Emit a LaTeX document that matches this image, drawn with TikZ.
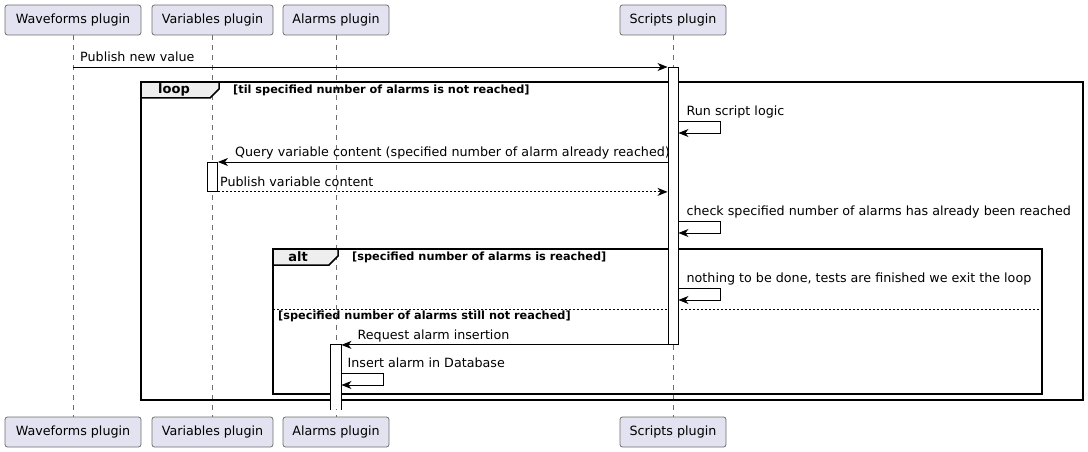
\documentclass[tikz,border=0pt]{standalone}
\usepackage{fontspec}
\setmainfont{DejaVu Sans}
\usetikzlibrary{calc,arrows.meta}

\definecolor{partfill}{HTML}{E2E2F0}
\definecolor{partline}{HTML}{6E6E6E}
\definecolor{tabfill}{HTML}{EEEEEE}

\begin{document}
\begin{tikzpicture}[
    x=1pt, y=-1pt,
    font=\fontsize{12.7}{15}\selectfont,
    part/.style={draw=partline, fill=partfill, line width=0.8pt, rounded corners=2.5pt, minimum height=30pt, inner sep=0pt},
    life/.style={draw=partline, line width=0.6pt, dash pattern=on 5pt off 5pt},
    act/.style={draw, fill=white, line width=0.9pt, minimum width=10pt, inner sep=0pt, anchor=north},
    msg/.style={line width=0.9pt, -{Stealth[length=10pt,width=8pt,inset=3pt]}},
    reply/.style={msg, dash pattern=on 2pt off 2pt},
    frame/.style={draw, line width=1.5pt},
    tab/.style={fill=tabfill, draw, line width=1.5pt},
    tablbl/.style={font=\fontsize{13}{15}\selectfont\bfseries, inner sep=0pt},
    cond/.style={font=\fontsize{11.3}{13}\selectfont\bfseries, anchor=west, inner sep=0pt},
    txt/.style={anchor=base west, inner sep=0pt}
]
    \useasboundingbox (0,0) rectangle (1088,452);

    % Participants, top and bottom, with lifelines
    \foreach \n/\x/\w/\t in {wave/73/136/Waveforms plugin, vars/212.5/121/Variables plugin,
                             alarm/336/106/Alarms plugin, script/673/106/Scripts plugin} {
        \node[part, minimum width=\w] (\n) at (\x,20) {\t};
        \node[part, minimum width=\w] (\n-b) at (\x,432) {\t};
        \draw[life] (\n) -- (\n-b);
    }

    % loop frame
    \coordinate (loopNW) at (141,82);
    \coordinate (loopSE) at (1083,400);
    \draw[tab] (loopNW) -- ++(78,0) -- ++(0,7) -- ++(-9,9) -- ++(-69,0) -- cycle;
    \draw[frame] (loopNW) rectangle (loopSE);
    \node[tablbl] (loopLbl) at ($(loopNW)+(33,8)$) {loop};
    \node[cond] (loopCond) at ($(loopNW)+(92,8)$) {[til specified number of alarms is not reached]};

    % alt frame
    \coordinate (altNW) at (273,249);
    \coordinate (altSE) at (1042,394);
    \draw[tab] (altNW) -- ++(65,0) -- ++(0,7) -- ++(-9,9) -- ++(-56,0) -- cycle;
    \draw[frame] (altNW) rectangle (altSE);
    \node[tablbl] (altLbl) at ($(altNW)+(25,8)$) {alt};
    \node[cond] (altCond) at ($(altNW)+(79,8)$) {[specified number of alarms is reached]};
    \coordinate (elseW) at (altNW |- 0,309);
    \coordinate (elseE) at (altSE |- 0,309);
    \draw[line width=0.9pt, dash pattern=on 2pt off 2pt] (elseW) -- (elseE);
    \node[cond] (elseCond) at ($(elseW)+(5,7)$) {[specified number of alarms still not reached]};

    % Activations
    \node[act, minimum height=277pt] (actS) at (script |- 0,67) {};
    \node[act, minimum height=29pt] (actV) at (vars |- 0,162) {};
    \node[act, draw=none, minimum height=64pt] (actA) at (alarm |- actS.south) {};
    \draw[line width=0.9pt] (actA.south west) -- (actA.north west) -- (actA.north east) -- (actA.south east);

    % Publish new value
    \draw[msg] (wave |- actS.north) -- (actS.north west);
    \node[txt] (t1) at ($(wave |- actS.north)+(7,-5)$) {Publish new value};

    % Run script logic
    \coordinate (r1) at (actS.east |- 0,121);
    \draw[msg] (r1) -- ++(42,0) |- (actS.east |- 0,133);
    \node[txt] (t2) at ($(r1)+(8,-6)$) {Run script logic};

    % Query / publish variable content
    \draw[msg] (actS.west |- actV.north) -- (actV.north east);
    \node[txt] (t3) at ($(actV.north east)+(17,-5)$) {Query variable content (specified number of alarm already reached)};
    \draw[reply] (actV.south east) -- (actS.west |- actV.south);
    \node[txt] (t4) at ($(actV.south east)+(2,-5)$) {Publish variable content};

    % check
    \coordinate (r2) at (actS.east |- 0,221);
    \draw[msg] (r2) -- ++(42,0) |- (actS.east |- 0,233);
    \node[txt] (t5) at ($(r2)+(8,-6)$) {check specified number of alarms has already been reached};

    % nothing to be done
    \coordinate (r3) at (actS.east |- 0,288);
    \draw[msg] (r3) -- ++(42,0) |- (actS.east |- 0,300);
    \node[txt] (t6) at ($(r3)+(8,-6)$) {nothing to be done, tests are finished we exit the loop};

    % Request alarm insertion
    \draw[msg] (actS.south west) -- (actA.north east);
    \node[txt] (t7) at ($(actA.north east)+(16,-5)$) {Request alarm insertion};

    % Insert alarm in Database
    \coordinate (r4) at (actA.east |- 0,373);
    \draw[msg] (r4) -- ++(42,0) |- (actA.east |- 0,385);
    \node[txt] (t8) at ($(r4)+(6,-6)$) {Insert alarm in Database};

\end{tikzpicture}
\end{document}
